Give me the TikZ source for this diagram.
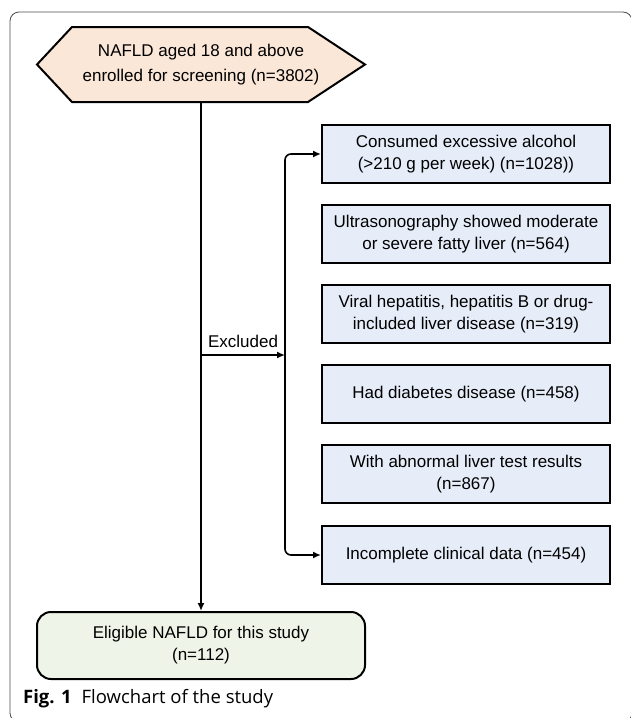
\documentclass[tikz,border=0pt]{standalone}
\usepackage{fontspec}
\setmainfont{Liberation Sans}
\newfontfamily\captionfont{Open Sans}
\usetikzlibrary{arrows.meta}

\definecolor{hexfill}{HTML}{FBE7D8}
\definecolor{exclfill}{HTML}{E6EDF8}
\definecolor{eligfill}{HTML}{EEF5E8}

\tikzset{
  boxtext/.style = {align=center, font=\fontsize{17}{22}\selectfont},
  exclbox/.style = {boxtext, draw, line width=2pt, fill=exclfill, minimum width=288pt, minimum height=58pt},
  arr/.style = {line width=1.6pt, -{Latex[length=8pt,width=7pt]}},
}

\begin{document}
\begin{tikzpicture}[x=1pt, y=-1pt]
\useasboundingbox (0,0) rectangle (630,718);
\draw[black!70, line width=0.8pt, rounded corners=9pt] (10,12) rectangle (632,722);
\filldraw[fill=hexfill, line width=2pt] (37,64.5) -- (72,27) -- (308,27) -- (365,64.5) -- (308,102) -- (72,102) -- cycle;
\node[boxtext, font=\fontsize{17}{25}\selectfont, minimum width=236pt, minimum height=75pt] (screen) at (201,64.5) {NAFLD aged 18 and above\\enrolled for screening (n=3802)};
\node[exclbox] (excl1) at (466,154) {Consumed excessive alcohol\\(>210 g per week) (n=1028))};
\node[exclbox] (excl2) at (466,234) {Ultrasonography showed moderate\\or severe fatty liver (n=564)};
\node[exclbox] (excl3) at (466,314) {Viral hepatitis, hepatitis B or drug-\\included liver disease (n=319)};
\node[exclbox] (excl4) at (466,394) {Had diabetes disease (n=458)};
\node[exclbox] (excl5) at (466,474) {With abnormal liver test results\\(n=867)};
\node[exclbox] (excl6) at (466,555) {Incomplete clinical data (n=454)};
\node[boxtext, draw, line width=2pt, fill=eligfill, rounded corners=14pt, minimum width=328pt, minimum height=67pt] (eligible) at (201,645.5) {Eligible NAFLD for this study\\(n=112)};
\coordinate (split) at (285,355);
\draw[arr] (screen.south) -- (eligible.north);
\draw[arr] (screen.south |- split) -- (split) node[midway, above=3pt, font=\fontsize{17}{22}\selectfont] {Excluded};
\draw[arr, rounded corners=6pt] (split) |- (excl1.west);
\draw[arr, rounded corners=6pt] (split) |- (excl6.west);
\node[anchor=base west, inner sep=0pt, font=\captionfont\fontsize{18.5}{20}\selectfont] (caption) at (23,703) {\textbf{Fig. 1}\hspace{10pt}Flowchart of the study};
\end{tikzpicture}
\end{document}
